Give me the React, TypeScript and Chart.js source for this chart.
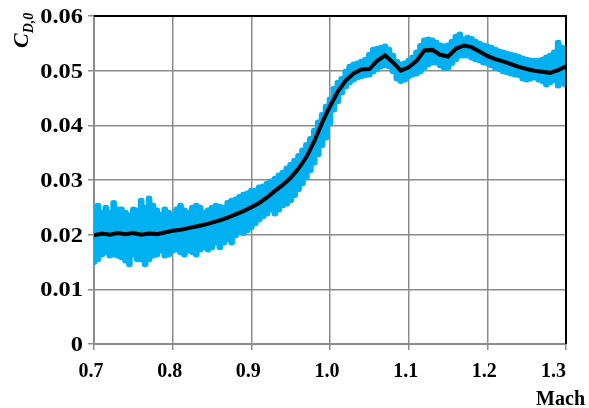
import React, { useEffect, useRef } from 'react';
import { Chart, registerables } from 'chart.js';
Chart.register(...registerables);

// Raw-signal envelope (blue), sampled every 0.005 Mach
const bandMach = [
  0.700, 0.705, 0.710, 0.715, 0.720, 0.725, 0.730, 0.735, 0.740, 0.745,
  0.750, 0.755, 0.760, 0.765, 0.770, 0.775, 0.780, 0.785, 0.790, 0.795,
  0.800, 0.805, 0.810, 0.815, 0.820, 0.825, 0.830, 0.835, 0.840, 0.845,
  0.850, 0.855, 0.860, 0.865, 0.870, 0.875, 0.880, 0.885, 0.890, 0.895,
  0.900, 0.905, 0.910, 0.915, 0.920, 0.925, 0.930, 0.935, 0.940, 0.945,
  0.950, 0.955, 0.960, 0.965, 0.970, 0.975, 0.980, 0.985, 0.990, 0.995,
  1.000, 1.005, 1.010, 1.015, 1.020, 1.025, 1.030, 1.035, 1.040, 1.045,
  1.050, 1.055, 1.060, 1.065, 1.070, 1.075, 1.080, 1.085, 1.090, 1.095,
  1.100, 1.105, 1.110, 1.115, 1.120, 1.125, 1.130, 1.135, 1.140, 1.145,
  1.150, 1.155, 1.160, 1.165, 1.170, 1.175, 1.180, 1.185, 1.190, 1.195,
  1.200, 1.205, 1.210, 1.215, 1.220, 1.225, 1.230, 1.235, 1.240, 1.245,
  1.250, 1.255, 1.260, 1.265, 1.270, 1.275, 1.280, 1.285, 1.290, 1.295,
  1.300,
];
const bandHigh = [
  0.0254, 0.0258, 0.0245, 0.0254, 0.0245, 0.0263, 0.0251, 0.0251, 0.0245, 0.0240,
  0.0251, 0.0249, 0.0267, 0.0254, 0.0271, 0.0258, 0.0249, 0.0241, 0.0251, 0.0245,
  0.0241, 0.0251, 0.0258, 0.0249, 0.0245, 0.0254, 0.0258, 0.0254, 0.0245, 0.0249,
  0.0254, 0.0258, 0.0256, 0.0254, 0.0263, 0.0267, 0.0269, 0.0274, 0.0278, 0.0280,
  0.0285, 0.0285, 0.0291, 0.0293, 0.0298, 0.0302, 0.0307, 0.0313, 0.0318, 0.0326,
  0.0333, 0.0340, 0.0349, 0.0359, 0.0369, 0.0380, 0.0395, 0.0410, 0.0424, 0.0439,
  0.0452, 0.0472, 0.0483, 0.0490, 0.0503, 0.0512, 0.0516, 0.0518, 0.0521, 0.0525,
  0.0534, 0.0543, 0.0545, 0.0547, 0.0549, 0.0543, 0.0532, 0.0521, 0.0516, 0.0518,
  0.0523, 0.0529, 0.0538, 0.0550, 0.0560, 0.0562, 0.0560, 0.0556, 0.0551, 0.0549,
  0.0551, 0.0558, 0.0567, 0.0571, 0.0562, 0.0565, 0.0563, 0.0558, 0.0554, 0.0551,
  0.0549, 0.0547, 0.0543, 0.0540, 0.0538, 0.0536, 0.0534, 0.0532, 0.0530, 0.0527,
  0.0525, 0.0523, 0.0523, 0.0523, 0.0525, 0.0529, 0.0532, 0.0538, 0.0556, 0.0547,
  0.0541,
];
const bandLow = [
  0.0145, 0.0150, 0.0159, 0.0163, 0.0157, 0.0159, 0.0157, 0.0154, 0.0148, 0.0141,
  0.0159, 0.0150, 0.0150, 0.0141, 0.0150, 0.0157, 0.0159, 0.0166, 0.0157, 0.0159,
  0.0166, 0.0168, 0.0163, 0.0159, 0.0166, 0.0163, 0.0159, 0.0168, 0.0172, 0.0168,
  0.0172, 0.0181, 0.0172, 0.0181, 0.0187, 0.0181, 0.0194, 0.0201, 0.0198, 0.0203,
  0.0209, 0.0216, 0.0223, 0.0229, 0.0234, 0.0241, 0.0234, 0.0241, 0.0249, 0.0252,
  0.0258, 0.0267, 0.0278, 0.0289, 0.0300, 0.0313, 0.0327, 0.0342, 0.0359, 0.0373,
  0.0400, 0.0424, 0.0439, 0.0455, 0.0466, 0.0474, 0.0479, 0.0483, 0.0485, 0.0487,
  0.0488, 0.0494, 0.0498, 0.0503, 0.0505, 0.0503, 0.0494, 0.0481, 0.0476, 0.0479,
  0.0485, 0.0488, 0.0490, 0.0494, 0.0501, 0.0507, 0.0510, 0.0510, 0.0505, 0.0501,
  0.0501, 0.0509, 0.0516, 0.0523, 0.0523, 0.0523, 0.0519, 0.0516, 0.0514, 0.0510,
  0.0509, 0.0505, 0.0501, 0.0498, 0.0494, 0.0492, 0.0490, 0.0488, 0.0487, 0.0481,
  0.0479, 0.0481, 0.0483, 0.0479, 0.0476, 0.0470, 0.0474, 0.0478, 0.0468, 0.0472,
  0.0470,
];

// Mean curve (black), every 0.01 Mach
const meanMach = [
  0.70, 0.71, 0.72, 0.73, 0.74, 0.75, 0.76, 0.77, 0.78, 0.79,
  0.80, 0.81, 0.82, 0.83, 0.84, 0.85, 0.86, 0.87, 0.88, 0.89,
  0.90, 0.91, 0.92, 0.93, 0.94, 0.95, 0.96, 0.97, 0.98, 0.99,
  1.00, 1.01, 1.02, 1.03, 1.04, 1.05, 1.06, 1.07, 1.08, 1.09,
  1.10, 1.11, 1.12, 1.13, 1.14, 1.15, 1.16, 1.17, 1.18, 1.19,
  1.20, 1.21, 1.22, 1.23, 1.24, 1.25, 1.26, 1.27, 1.28, 1.29,
  1.30,
];
const meanCd = [
  0.0199, 0.0202, 0.0200, 0.0203, 0.0201, 0.0203, 0.0200, 0.0202, 0.0201, 0.0204,
  0.0207, 0.0209, 0.0212, 0.0215, 0.0218, 0.0222, 0.0226, 0.0231, 0.0237, 0.0243,
  0.0250, 0.0258, 0.0268, 0.0280, 0.0291, 0.0304, 0.0321, 0.0342, 0.0371, 0.0405,
  0.0435, 0.0462, 0.0482, 0.0495, 0.0502, 0.0503, 0.0518, 0.0528, 0.0515, 0.0500,
  0.0506, 0.0518, 0.0537, 0.0538, 0.0529, 0.0526, 0.0540, 0.0546, 0.0543, 0.0535,
  0.0527, 0.0521, 0.0517, 0.0512, 0.0507, 0.0503, 0.0500, 0.0498, 0.0496, 0.0501,
  0.0508,
];

const xTickLabels = ['0.7', '0.8', '0.9', '1.0', '1.1', '1.2', '1.3'];
const yTickLabels = ['0', '0.01', '0.02', '0.03', '0.04', '0.05', '0.06'];
const xAxisTitle = 'Mach';
const yAxisMain = 'C';
const yAxisSub = 'D,0';

export default function App() {
  const ref = useRef<HTMLCanvasElement>(null);

  useEffect(() => {
    if (!ref.current) return;
    const FAMILY = '"Liberation Serif", "Times New Roman", serif';
    const GRID = '#8c8c8c';

    const framePlugin = {
      id: 'frameAndTitles',
      afterDatasetsDraw(chart: any) {
        const { ctx, chartArea: a } = chart;
        ctx.save();
        ctx.strokeStyle = '#000';
        ctx.lineWidth = 2;
        ctx.beginPath();
        ctx.moveTo(a.left, a.top);
        ctx.lineTo(a.right, a.top);
        ctx.lineTo(a.right, a.bottom);
        ctx.stroke();
        ctx.restore();
      },
      afterDraw(chart: any) {
        const { ctx, chartArea: a } = chart;
        const xs = chart.scales.x;
        const ys = chart.scales.y;
        ctx.save();
        ctx.fillStyle = '#000';
        ctx.font = `bold 20px ${FAMILY}`;
        ctx.textBaseline = 'alphabetic';

        // x tick labels
        ctx.textAlign = 'center';
        xs.ticks.forEach((t: any, i: number) => {
          const label = xTickLabels[i];
          if (label == null) return;
          const w = ctx.measureText(label).width;
          let cx = xs.getPixelForValue(t.value) - 3;
          if (cx + w / 2 > a.right) cx = a.right - w / 2;
          ctx.fillText(label, cx, a.bottom + 33);
        });

        // y tick labels (slightly wide rendering as in the original)
        ys.ticks.forEach((t: any, i: number) => {
          const label = yTickLabels[i];
          if (label == null) return;
          const py = ys.getPixelForValue(t.value);
          ctx.save();
          ctx.translate(a.left - 11, py + 7);
          ctx.scale(1.22, 1);
          ctx.textAlign = 'right';
          ctx.fillText(label, 0, 0);
          ctx.restore();
        });

        // x-axis title
        ctx.textAlign = 'right';
        ctx.fillText(xAxisTitle, 585, 405);

        // y-axis title, rotated
        ctx.translate(28, 48);
        ctx.rotate(-Math.PI / 2);
        ctx.textAlign = 'left';
        ctx.font = `italic bold 22px ${FAMILY}`;
        ctx.fillText(yAxisMain, 0, 0);
        const w = ctx.measureText(yAxisMain).width;
        ctx.font = `italic bold 14px ${FAMILY}`;
        ctx.fillText(yAxisSub, w, 5);
        ctx.restore();
      },
    };

    const chart = new Chart(ref.current, {
      type: 'bar',
      data: {
        datasets: [
          {
            type: 'line',
            data: meanMach.map((x, i) => ({ x, y: meanCd[i] })),
            borderColor: '#000',
            borderWidth: 4,
            pointRadius: 0,
            tension: 0,
            order: 0,
          } as any,
          {
            type: 'bar',
            data: bandMach.map((x, i) => ({ x, y: [bandLow[i], bandHigh[i]] })),
            backgroundColor: '#00b0f0',
            barThickness: 6,
            borderRadius: 3,
            borderSkipped: false,
            order: 1,
          } as any,
        ],
      },
      options: {
        animation: false,
        responsive: false,
        devicePixelRatio: 1,
        layout: { padding: { top: 16, right: 23, left: 0, bottom: 0 } },
        plugins: { legend: { display: false }, tooltip: { enabled: false } },
        scales: {
          x: {
            type: 'linear',
            min: 0.7,
            max: 1.3,
            offset: false,
            grid: { color: GRID, lineWidth: 1.5, tickLength: 6, offset: false },
            border: { color: GRID, width: 2 },
            ticks: { stepSize: 0.1, autoSkip: false, display: false },
            afterFit(s: any) { s.height = 64; },
          },
          y: {
            type: 'linear',
            min: 0,
            max: 0.06,
            grid: { color: GRID, lineWidth: 1.5, tickLength: 6 },
            border: { color: GRID, width: 2 },
            ticks: { stepSize: 0.01, display: false },
            afterFit(s: any) { s.width = 94; },
          },
        },
      } as any,
      plugins: [framePlugin],
    });
    return () => chart.destroy();
  }, []);

  return (
    <div style={{ position: 'fixed', left: 0, top: 0, width: 589, height: 408, background: '#fff' }}>
      <canvas ref={ref} width={589} height={408} style={{ display: 'block' }} />
    </div>
  );
}
